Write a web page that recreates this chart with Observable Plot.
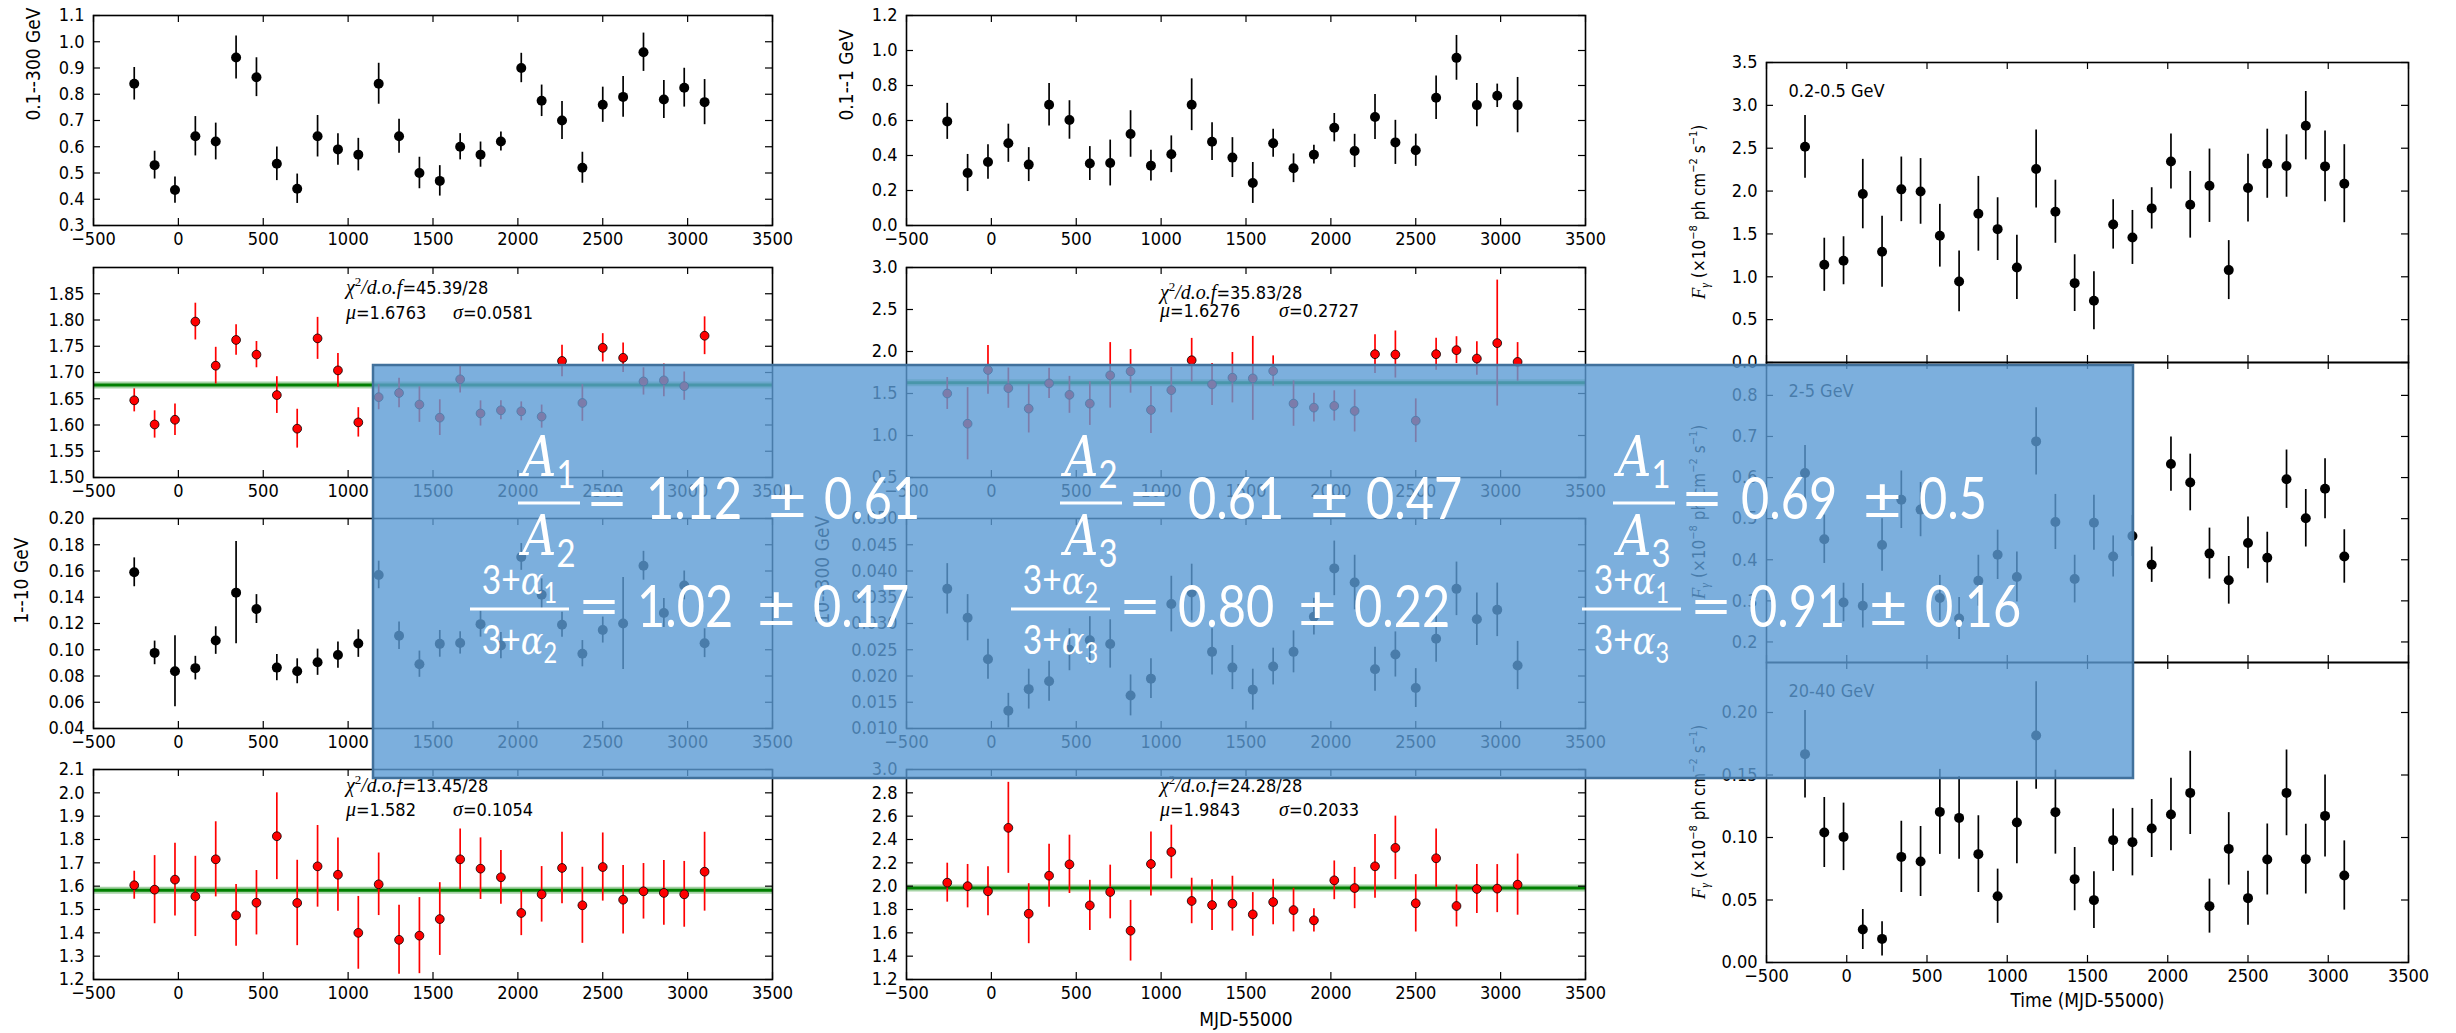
<!DOCTYPE html>
<html>
<head>
<meta charset="utf-8">
<script src="https://cdn.jsdelivr.net/npm/d3@7"></script>
<script src="https://cdn.jsdelivr.net/npm/@observablehq/plot@0.6"></script>
<style>
  html, body { margin: 0; padding: 0; background: #fff; }
  #fig { position: relative; width: 2456px; height: 1033px; overflow: hidden; background: #fff; }
  #fig > svg { position: absolute; }
</style>
</head>
<body>
<div id="fig"></div>
<script>
// ---- time bins (MJD-55000) ----
const mjd = [-260, -140, -20, 100, 220, 340, 460, 580, 700, 820, 940, 1060, 1180, 1300, 1420,
             1540, 1660, 1780, 1900, 2020, 2140, 2260, 2380, 2500, 2620, 2740, 2860, 2980, 3100];
const timeTicks = [-500, 0, 500, 1000, 1500, 2000, 2500, 3000, 3500];

// ---- 0.1--300 GeV flux ----
const flux_01_300 = [0.84, 0.53, 0.435, 0.64, 0.62, 0.94, 0.865, 0.535, 0.44, 0.64, 0.59, 0.57, 0.84, 0.64, 0.50,
                     0.47, 0.60, 0.57, 0.62, 0.90, 0.775, 0.70, 0.52, 0.76, 0.79, 0.96, 0.78, 0.825, 0.77];
const flux_01_300_err = [0.062, 0.053, 0.05, 0.075, 0.07, 0.082, 0.074, 0.064, 0.056, 0.079, 0.06, 0.062, 0.078, 0.065, 0.06,
                         0.058, 0.05, 0.048, 0.036, 0.056, 0.06, 0.072, 0.059, 0.067, 0.078, 0.073, 0.072, 0.074, 0.086];
// photon index, fit 1
const index_a = [1.647, 1.601, 1.610, 1.797, 1.713, 1.762, 1.734, 1.657, 1.593, 1.765, 1.704, 1.605, 1.653, 1.661, 1.639,
                 1.614, 1.687, 1.622, 1.628, 1.626, 1.616, 1.722, 1.642, 1.747, 1.728, 1.683, 1.685, 1.674, 1.770];
const index_a_err = [0.022, 0.026, 0.03, 0.035, 0.035, 0.029, 0.025, 0.035, 0.037, 0.04, 0.032, 0.028, 0.024, 0.028, 0.034,
                     0.034, 0.026, 0.024, 0.018, 0.018, 0.022, 0.03, 0.035, 0.027, 0.028, 0.026, 0.031, 0.027, 0.036];
// ---- 1--10 GeV flux ----
const flux_1_10 = [0.159, 0.0976, 0.0836, 0.086, 0.107, 0.1435, 0.131, 0.0864, 0.0836, 0.0905, 0.096, 0.1047, 0.157, 0.1107, 0.089,
                   0.1045, 0.1052, 0.1195, 0.1032, 0.1707, 0.142, 0.119, 0.097, 0.115, 0.120, 0.164, 0.128, 0.149, 0.105];
const flux_1_10_err = [0.011, 0.009, 0.027, 0.009, 0.0105, 0.039, 0.011, 0.010, 0.0095, 0.010, 0.010, 0.0105, 0.0105, 0.0105, 0.010,
                       0.0102, 0.0085, 0.0099, 0.010, 0.0102, 0.012, 0.0095, 0.010, 0.0099, 0.035, 0.011, 0.011, 0.011, 0.011];
// photon index, fit 3
const index_c = [1.604, 1.585, 1.628, 1.556, 1.715, 1.475, 1.529, 1.814, 1.528, 1.685, 1.649, 1.40, 1.608, 1.370, 1.388,
                 1.459, 1.715, 1.675, 1.638, 1.485, 1.565, 1.678, 1.518, 1.682, 1.542, 1.578, 1.571, 1.565, 1.662];
const index_c_err = [0.06, 0.146, 0.156, 0.172, 0.161, 0.132, 0.138, 0.186, 0.183, 0.175, 0.157, 0.156, 0.134, 0.148, 0.163,
                     0.156, 0.130, 0.132, 0.115, 0.097, 0.119, 0.153, 0.163, 0.146, 0.147, 0.119, 0.139, 0.141, 0.169];
// ---- 0.1--1 GeV flux ----
const flux_01_1 = [0.595, 0.300, 0.363, 0.470, 0.348, 0.690, 0.603, 0.354, 0.357, 0.523, 0.342, 0.407, 0.690, 0.479, 0.388,
                   0.243, 0.470, 0.327, 0.405, 0.559, 0.426, 0.620, 0.475, 0.430, 0.730, 0.958, 0.688, 0.741, 0.688];
const flux_01_1_err = [0.103, 0.106, 0.098, 0.109, 0.097, 0.122, 0.110, 0.097, 0.131, 0.133, 0.088, 0.105, 0.148, 0.108, 0.114,
                       0.117, 0.080, 0.082, 0.054, 0.081, 0.095, 0.128, 0.126, 0.092, 0.124, 0.128, 0.124, 0.067, 0.158];
// photon index, fit 2
const index_b = [1.50, 1.14, 1.78, 1.564, 1.32, 1.62, 1.484, 1.38, 1.716, 1.764, 1.304, 1.54, 1.896, 1.608, 1.688,
                 1.68, 1.768, 1.38, 1.332, 1.352, 1.292, 1.968, 1.964, 1.176, 1.968, 2.016, 1.916, 2.10, 1.876];
const index_b_err = [0.19, 0.43, 0.29, 0.24, 0.29, 0.18, 0.22, 0.26, 0.39, 0.26, 0.28, 0.27, 0.26, 0.25, 0.30,
                     0.50, 0.18, 0.27, 0.17, 0.18, 0.25, 0.23, 0.28, 0.26, 0.19, 0.16, 0.20, 0.75, 0.23];
// ---- 10--300 GeV flux ----
const flux_10_300 = [0.0366, 0.0311, 0.0232, 0.0134, 0.0175, 0.019, 0.0250, 0.0268, 0.0261, 0.0163, 0.0195, 0.0337, 0.0359, 0.0246, 0.0216,
                     0.0174, 0.0218, 0.0246, 0.0313, 0.0405, 0.0378, 0.0213, 0.0241, 0.0177, 0.0271, 0.0366, 0.0308, 0.0326, 0.0220];
const flux_10_300_err = [0.0048, 0.0044, 0.0038, 0.0033, 0.0038, 0.0038, 0.0040, 0.0045, 0.0046, 0.0039, 0.0038, 0.0053, 0.0054, 0.0044, 0.0042,
                         0.0039, 0.0035, 0.0040, 0.0035, 0.0052, 0.0052, 0.0042, 0.0043, 0.0037, 0.0045, 0.0051, 0.0050, 0.0051, 0.0046];
// photon index, fit 4
const index_d = [2.030, 2.0, 1.956, 2.50, 1.764, 2.09, 2.187, 1.835, 1.95, 1.618, 2.19, 2.293, 1.873, 1.838, 1.85,
                 1.758, 1.864, 1.795, 1.707, 2.05, 1.984, 2.17, 2.328, 1.853, 2.239, 1.83, 1.976, 1.979, 2.013];
const index_d_err = [0.167, 0.186, 0.21, 0.39, 0.257, 0.27, 0.25, 0.215, 0.23, 0.26, 0.275, 0.23, 0.195, 0.217, 0.235,
                     0.187, 0.195, 0.187, 0.10, 0.166, 0.177, 0.273, 0.272, 0.246, 0.25, 0.18, 0.21, 0.206, 0.262];
// ---- narrow-band fluxes (x10^-8 ph cm^-2 s^-1) ----
const band_02_05 = [2.517, 1.14, 1.187, 1.965, 1.292, 2.02, 1.996, 1.479, 0.946, 1.735, 1.556, 1.109, 2.257, 1.759, 0.926,
                    0.72, 1.611, 1.459, 1.798, 2.346, 1.84, 2.062, 1.078, 2.035, 2.319, 2.292, 2.763, 2.288, 2.086];
const band_02_05_err = [0.366, 0.31, 0.28, 0.405, 0.414, 0.377, 0.383, 0.366, 0.354, 0.436, 0.366, 0.375, 0.455, 0.368, 0.331,
                        0.339, 0.288, 0.315, 0.241, 0.321, 0.389, 0.428, 0.344, 0.395, 0.403, 0.364, 0.399, 0.412, 0.455];
const band_2_5 = [0.611, 0.450, 0.296, 0.288, 0.436, 0.546, 0.522, 0.307, 0.257, 0.349, 0.412, 0.358, 0.688, 0.492, 0.353,
                  0.490, 0.408, 0.458, 0.388, 0.633, 0.588, 0.415, 0.350, 0.441, 0.405, 0.596, 0.501, 0.573, 0.408];
const band_2_5_err = [0.067, 0.059, 0.047, 0.054, 0.064, 0.07, 0.066, 0.055, 0.051, 0.062, 0.060, 0.061, 0.082, 0.067, 0.058,
                      0.067, 0.05, 0.05, 0.043, 0.066, 0.069, 0.062, 0.058, 0.063, 0.062, 0.071, 0.07, 0.073, 0.065];
const band_20_40 = [0.1667, 0.104, 0.1005, 0.0264, 0.0189, 0.0845, 0.0808, 0.1205, 0.1157, 0.0867, 0.053, 0.112, 0.1816, 0.1203, 0.0667,
                    0.0499, 0.0979, 0.0963, 0.1072, 0.1184, 0.1357, 0.0451, 0.0909, 0.0515, 0.0824, 0.1357, 0.0827, 0.1173, 0.0696];
const band_20_40_err = [0.035, 0.028, 0.027, 0.016, 0.0137, 0.0285, 0.028, 0.034, 0.033, 0.0307, 0.0217, 0.033, 0.043, 0.0336, 0.0253,
                        0.0227, 0.025, 0.027, 0.0232, 0.029, 0.0333, 0.0216, 0.029, 0.0216, 0.0284, 0.0343, 0.0279, 0.0328, 0.0277];

// ---- fit summaries ----
const fitStats = [
  {chi2: "45.39/28", mu: "1.6763", sigma: "0.0581"},
  {chi2: "13.45/28", mu: "1.582",  sigma: "0.1054"},
  {chi2: "35.83/28", mu: "1.6276", sigma: "0.2727"},
  {chi2: "24.28/28", mu: "1.9843", sigma: "0.2033"}
];
const fitMeans = [1.6763, 1.582, 1.6276, 1.9843];

// ---- y tick values ----
const ticks_01_300 = [0.3, 0.4, 0.5, 0.6, 0.7, 0.8, 0.9, 1.0, 1.1];
const ticks_index_a = [1.50, 1.55, 1.60, 1.65, 1.70, 1.75, 1.80, 1.85];
const ticks_1_10 = [0.04, 0.06, 0.08, 0.10, 0.12, 0.14, 0.16, 0.18, 0.20];
const ticks_index_c = [1.2, 1.3, 1.4, 1.5, 1.6, 1.7, 1.8, 1.9, 2.0, 2.1];
const ticks_01_1 = [0.0, 0.2, 0.4, 0.6, 0.8, 1.0, 1.2];
const ticks_index_b = [0.5, 1.0, 1.5, 2.0, 2.5, 3.0];
const ticks_10_300 = [0.010, 0.015, 0.020, 0.025, 0.030, 0.035, 0.040, 0.045, 0.050];
const ticks_index_d = [1.2, 1.4, 1.6, 1.8, 2.0, 2.2, 2.4, 2.6, 2.8, 3.0];
const ticks_02_05 = [0.0, 0.5, 1.0, 1.5, 2.0, 2.5, 3.0, 3.5];
const ticks_2_5 = [0.2, 0.3, 0.4, 0.5, 0.6, 0.7, 0.8];
const ticks_20_40 = [0.00, 0.05, 0.10, 0.15, 0.20];

// ---- ratio summaries shown in the box ----
const normRatios = [
  {num: "1", den: "2", value: "1.12", err: "0.61"},
  {num: "2", den: "3", value: "0.61", err: "0.47"},
  {num: "1", den: "3", value: "0.69", err: "0.5"}
];
const slopeRatios = [
  {num: "1", den: "2", value: "1.02", err: "0.17"},
  {num: "2", den: "3", value: "0.80", err: "0.22"},
  {num: "1", den: "3", value: "0.91", err: "0.16"}
];

// ------------------------------------------------------------------
const fig = document.getElementById("fig");
const minus = d => (d < 0 ? "\u2212" + Math.abs(d) : String(d));
const TICK = 7;

function panel(o) {
  const rows = mjd.map((t, i) => ({t, v: o.values[i], e: o.errs[i]}));
  const m = {top: 14, right: 14, bottom: 44, left: o.left ?? 100};
  const marks = [];
  if (o.mean != null) {
    marks.push(Plot.ruleY([o.mean], {y: d => d, stroke: "#008000", strokeOpacity: 0.35, strokeWidth: 7}));
    marks.push(Plot.ruleY([o.mean], {y: d => d, stroke: "#008000", strokeWidth: 3}));
  }
  marks.push(
    Plot.ruleX(rows, {x: "t", y1: d => d.v - d.e, y2: d => d.v + d.e, stroke: o.color, strokeWidth: 1.7}),
    Plot.dot(rows, {x: "t", y: "v", r: o.red ? 4.4 : 5, fill: o.color,
                    stroke: o.red ? "black" : "none", strokeWidth: 0.8}),
    // inward ticks on all four sides
    Plot.ruleX(timeTicks, {x: d => d, insetTop: o.fh - TICK, stroke: "black", strokeWidth: 1.2}),
    Plot.ruleX(timeTicks, {x: d => d, insetBottom: o.fh - TICK, stroke: "black", strokeWidth: 1.2}),
    Plot.ruleY(o.yTicks, {y: d => d, insetRight: o.fw - TICK, stroke: "black", strokeWidth: 1.2}),
    Plot.ruleY(o.yTicks, {y: d => d, insetLeft: o.fw - TICK, stroke: "black", strokeWidth: 1.2}),
    Plot.frame({stroke: "black", strokeWidth: 1.6})
  );
  if (o.ylabel) {
    marks.push(Plot.text([o.ylabel], {text: d => d, frameAnchor: "left", dx: o.ylabelDx, rotate: -90,
                                      fontSize: o.labelSize ?? 19, fill: "black"}));
  }
  if (o.xlabel) {
    marks.push(Plot.text([o.xlabel], {text: d => d, frameAnchor: "bottom", dy: o.xlabelDy, fontSize: o.labelSize ?? 19,
                                      fill: "black"}));
  }
  if (o.tag) {
    marks.push(Plot.text([o.tag], {text: d => d, frameAnchor: "top-left", dx: 22, dy: 22, textAnchor: "start",
                                   fontSize: 18, fill: "black"}));
  }
  const svg = Plot.plot({
    width: o.fw + m.left + m.right,
    height: o.fh + m.top + m.bottom,
    marginTop: m.top, marginRight: m.right, marginBottom: m.bottom, marginLeft: m.left,
    style: {fontFamily: o.font, fontSize: (o.tickSize ?? 18) + "px", color: "black",
            background: "transparent", overflow: "visible"},
    x: {domain: [-500, 3500], ticks: timeTicks, tickFormat: minus, tickSize: 0, tickPadding: 7,
        label: null, axis: o.xTickLabels === false ? null : "bottom"},
    y: {domain: o.yDomain, ticks: o.yTicks, tickFormat: d3.format(o.fmt), tickSize: 0, tickPadding: 9,
        label: null},
    marks
  });
  svg.style.left = (o.fx - m.left) + "px";
  svg.style.top = (o.fy - m.top) + "px";
  fig.appendChild(svg);
}

const mplFont = "'DejaVu Sans Condensed', 'DejaVu Sans', sans-serif";
const narrowFont = "'Liberation Sans Narrow', 'DejaVu Sans Condensed', 'DejaVu Sans', sans-serif";
const LX = 93, MX = 906, CW = 679, RH = 210;
const rowsY = [15, 267, 518, 769];

// left column
panel({fx: LX, fy: rowsY[0], fw: CW, fh: RH, values: flux_01_300, errs: flux_01_300_err, color: "black",
       yDomain: [0.3, 1.1], yTicks: ticks_01_300, fmt: ".1f", ylabel: "0.1--300 GeV", ylabelDx: -60, font: mplFont});
panel({fx: LX, fy: rowsY[1], fw: CW, fh: RH, values: index_a, errs: index_a_err, color: "#ff0000", red: true,
       mean: fitMeans[0], yDomain: [1.5, 1.9], yTicks: ticks_index_a, fmt: ".2f", font: mplFont});
panel({fx: LX, fy: rowsY[2], fw: CW, fh: RH, values: flux_1_10, errs: flux_1_10_err, color: "black",
       yDomain: [0.04, 0.20], yTicks: ticks_1_10, fmt: ".2f", ylabel: "1--10 GeV", ylabelDx: -72, font: mplFont});
panel({fx: LX, fy: rowsY[3], fw: CW, fh: RH, values: index_c, errs: index_c_err, color: "#ff0000", red: true,
       mean: fitMeans[1], yDomain: [1.2, 2.1], yTicks: ticks_index_c, fmt: ".1f", font: mplFont});
// middle column
panel({fx: MX, fy: rowsY[0], fw: CW, fh: RH, values: flux_01_1, errs: flux_01_1_err, color: "black",
       yDomain: [0, 1.2], yTicks: ticks_01_1, fmt: ".1f", ylabel: "0.1--1 GeV", ylabelDx: -60, font: mplFont});
panel({fx: MX, fy: rowsY[1], fw: CW, fh: RH, values: index_b, errs: index_b_err, color: "#ff0000", red: true,
       mean: fitMeans[2], yDomain: [0.5, 3.0], yTicks: ticks_index_b, fmt: ".1f", font: mplFont});
panel({fx: MX, fy: rowsY[2], fw: CW, fh: RH, values: flux_10_300, errs: flux_10_300_err, color: "black",
       yDomain: [0.01, 0.05], yTicks: ticks_10_300, fmt: ".3f", ylabel: "10--300 GeV", ylabelDx: -84, font: mplFont});
panel({fx: MX, fy: rowsY[3], fw: CW, fh: RH, values: index_d, errs: index_d_err, color: "#ff0000", red: true,
       mean: fitMeans[3], yDomain: [1.2, 3.0], yTicks: ticks_index_d, fmt: ".1f", font: mplFont,
       xlabel: "MJD-55000", xlabelDy: 46});
// right column (shared time axis)
const RX = 1766, RW = 642, RPH = 300;
panel({fx: RX, fy: 62, fw: RW, fh: RPH, values: band_02_05, errs: band_02_05_err, color: "black",
       yDomain: [0, 3.5], yTicks: ticks_02_05, fmt: ".1f", xTickLabels: false, tag: "0.2-0.5 GeV", font: narrowFont});
panel({fx: RX, fy: 362, fw: RW, fh: RPH, values: band_2_5, errs: band_2_5_err, color: "black",
       yDomain: [0.15, 0.88], yTicks: ticks_2_5, fmt: ".1f", xTickLabels: false, tag: "2-5 GeV", font: narrowFont});
panel({fx: RX, fy: 662, fw: RW, fh: RPH, values: band_20_40, errs: band_20_40_err, color: "black",
       yDomain: [0, 0.24], yTicks: ticks_20_40, fmt: ".2f", tag: "20-40 GeV", font: narrowFont,
       xlabel: "Time (MJD-55000)", xlabelDy: 44});

// ---- annotation layer: fit statistics and flux-axis labels ----
const ann = d3.select(fig).append("svg")
  .attr("width", 2456).attr("height", 1033).style("left", "0px").style("top", "0px");
const mathFont = "'Liberation Serif', 'DejaVu Serif', serif";

function statBlock(s, x, y1, y2, sigmaDx) {
  const t1 = ann.append("text").attr("x", x).attr("y", y1).attr("font-size", 18).attr("fill", "black")
    .attr("font-family", mplFont);
  t1.append("tspan").attr("font-family", mathFont).attr("font-style", "italic").attr("font-size", 20).text("\u03c7");
  t1.append("tspan").attr("font-family", mathFont).attr("font-size", 13).attr("dy", -8).text("2");
  t1.append("tspan").attr("font-family", mathFont).attr("font-style", "italic").attr("font-size", 20).attr("dy", 8)
    .text("/d.o.f");
  t1.append("tspan").text("=" + s.chi2);
  const t2 = ann.append("text").attr("y", y2).attr("font-size", 18).attr("fill", "black").attr("font-family", mplFont);
  t2.append("tspan").attr("x", x).attr("font-family", mathFont).attr("font-style", "italic").attr("font-size", 20).text("\u03bc");
  t2.append("tspan").text("=" + s.mu);
  t2.append("tspan").attr("x", x + sigmaDx).attr("font-family", mathFont).attr("font-style", "italic")
    .attr("font-size", 20).text("\u03c3");
  t2.append("tspan").text("=" + s.sigma);
}
statBlock(fitStats[0], 346, 294, 319, 107);
statBlock(fitStats[1], 346, 792, 816, 107);
statBlock(fitStats[2], 1160, 299, 317, 119);
statBlock(fitStats[3], 1160, 792, 816, 119);

[212, 512, 812].forEach(cy => {
  const t = ann.append("text").attr("transform", `translate(1705,${cy}) rotate(-90)`)
    .attr("text-anchor", "middle").attr("font-size", 17).attr("fill", "black").attr("font-family", mplFont);
  t.append("tspan").attr("font-family", mathFont).attr("font-style", "italic").attr("font-size", 19).text("F");
  t.append("tspan").attr("font-family", mathFont).attr("font-style", "italic").attr("font-size", 12).attr("dy", 4).text("\u03b3");
  t.append("tspan").attr("dy", -4).text("  (\u00d710");
  t.append("tspan").attr("font-size", 11).attr("dy", -8).text("\u22128");
  t.append("tspan").attr("dy", 8).text(" ph cm");
  t.append("tspan").attr("font-size", 11).attr("dy", -8).text("\u22122");
  t.append("tspan").attr("dy", 8).text(" s");
  t.append("tspan").attr("font-size", 11).attr("dy", -8).text("\u22121");
  t.append("tspan").attr("dy", 8).text(")");
});

// ---- highlighted box with the ratio summary ----
const box = d3.select(fig).append("svg")
  .attr("width", 2456).attr("height", 1033).style("left", "0px").style("top", "0px");
box.append("rect").attr("x", 373).attr("y", 365).attr("width", 1760).attr("height", 413)
  .attr("fill", "#5B9BD5").attr("fill-opacity", 0.8).attr("stroke", "#41719C").attr("stroke-width", 2.5);

const numFont = "Lato, 'Open Sans', sans-serif";
const boxMath = "'DejaVu Serif', 'Liberation Serif', serif";
const SX = 0.84; // tall, narrow glyphs

function boxText(x, y, size, anchor, pieces, sx = SX) {
  const t = box.append("text").attr("transform", `translate(${x},${y}) scale(${sx},1)`)
    .attr("text-anchor", anchor).attr("fill", "white").attr("font-size", size);
  pieces.forEach(p => {
    const s = t.append("tspan").attr("font-family", p.italic ? boxMath : numFont)
      .attr("font-style", p.italic ? "italic" : "normal").text(p.s);
    if (p.size) s.attr("font-size", p.size);
    if (p.dy) s.attr("dy", p.dy);
  });
}
function fraction(x0, w, yNum, yBar, yDen, size, head, sub) {
  const cx = x0 + w / 2;
  const piece = idx => [...head, {s: idx, size: size * 0.7, dy: size * 0.22}];
  boxText(cx, yNum, size, "middle", piece(sub[0]));
  boxText(cx, yDen, size, "middle", piece(sub[1]));
  box.append("line").attr("x1", x0).attr("x2", x0 + w).attr("y1", yBar).attr("y2", yBar)
    .attr("stroke", "white").attr("stroke-width", 3);
}
function valueText(x0, y, r, off, size) {
  boxText(x0 + off[0], y, size, "start", [{s: "="}], 1.25);
  boxText(x0 + off[1], y, size, "start", [{s: r.value}]);
  boxText(x0 + off[2], y, size, "start", [{s: "\u00b1"}], 1.15);
  boxText(x0 + off[3], y, size, "start", [{s: r.err}]);
}
const row1X = [518, 1060, 1613];
normRatios.forEach((r, i) => {
  fraction(row1X[i], 62, 476, 503, 555, 56, [{s: "A", italic: true}], [r.num, r.den]);
  valueText(row1X[i], 519, r, [68, 128, 250, 306], 58);
});
const row2X = [470, 1011, 1582];
slopeRatios.forEach((r, i) => {
  fraction(row2X[i], 99, 594, 609, 654, 40, [{s: "3+"}, {s: "\u03b1", italic: true}], [r.num, r.den]);
  valueText(row2X[i], 627, r, [108, 167, 287, 343], 58);
});
</script>
</body>
</html>
